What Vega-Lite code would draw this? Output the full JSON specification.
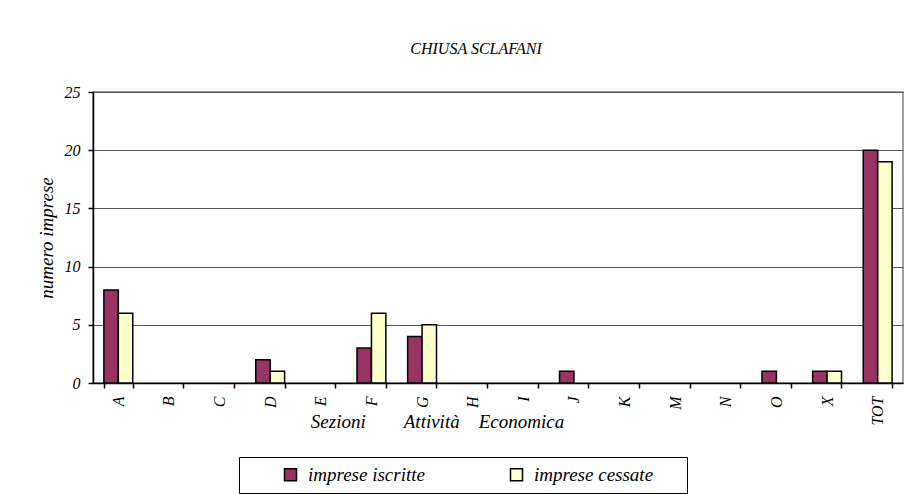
{
  "$schema": "https://vega.github.io/schema/vega-lite/v6.json",
  "width": 810,
  "height": 291,
  "autosize": {"type": "none"},
  "padding": {"left": 93, "top": 92, "right": 12, "bottom": 111},
  "background": "white",
  "title": {
    "text": "CHIUSA SCLAFANI",
    "font": "Liberation Serif",
    "fontSize": 16,
    "fontStyle": "italic",
    "fontWeight": "normal",
    "color": "#000",
    "anchor": "middle",
    "baseline": "alphabetic",
    "offset": 14,
    "dx": -22
  },
  "data": {
    "values": [
      {"sezione": "A", "serie": "imprese iscritte", "valore": 8},
      {"sezione": "A", "serie": "imprese cessate", "valore": 6},
      {"sezione": "B", "serie": "imprese iscritte", "valore": 0},
      {"sezione": "B", "serie": "imprese cessate", "valore": 0},
      {"sezione": "C", "serie": "imprese iscritte", "valore": 0},
      {"sezione": "C", "serie": "imprese cessate", "valore": 0},
      {"sezione": "D", "serie": "imprese iscritte", "valore": 2},
      {"sezione": "D", "serie": "imprese cessate", "valore": 1},
      {"sezione": "E", "serie": "imprese iscritte", "valore": 0},
      {"sezione": "E", "serie": "imprese cessate", "valore": 0},
      {"sezione": "F", "serie": "imprese iscritte", "valore": 3},
      {"sezione": "F", "serie": "imprese cessate", "valore": 6},
      {"sezione": "G", "serie": "imprese iscritte", "valore": 4},
      {"sezione": "G", "serie": "imprese cessate", "valore": 5},
      {"sezione": "H", "serie": "imprese iscritte", "valore": 0},
      {"sezione": "H", "serie": "imprese cessate", "valore": 0},
      {"sezione": "I", "serie": "imprese iscritte", "valore": 0},
      {"sezione": "I", "serie": "imprese cessate", "valore": 0},
      {"sezione": "J", "serie": "imprese iscritte", "valore": 1},
      {"sezione": "J", "serie": "imprese cessate", "valore": 0},
      {"sezione": "K", "serie": "imprese iscritte", "valore": 0},
      {"sezione": "K", "serie": "imprese cessate", "valore": 0},
      {"sezione": "M", "serie": "imprese iscritte", "valore": 0},
      {"sezione": "M", "serie": "imprese cessate", "valore": 0},
      {"sezione": "N", "serie": "imprese iscritte", "valore": 0},
      {"sezione": "N", "serie": "imprese cessate", "valore": 0},
      {"sezione": "O", "serie": "imprese iscritte", "valore": 1},
      {"sezione": "O", "serie": "imprese cessate", "valore": 0},
      {"sezione": "X", "serie": "imprese iscritte", "valore": 1},
      {"sezione": "X", "serie": "imprese cessate", "valore": 1},
      {"sezione": "TOT", "serie": "imprese iscritte", "valore": 20},
      {"sezione": "TOT", "serie": "imprese cessate", "valore": 19}
    ]
  },
  "mark": {"type": "bar", "stroke": "#000", "strokeWidth": 1.5},
  "encoding": {
    "x": {
      "field": "sezione",
      "type": "nominal",
      "sort": null,
      "scale": {"paddingInner": 0.43, "paddingOuter": 0.215},
      "axis": {
        "title": "Sezioni\u00a0\u00a0\u00a0\u00a0\u00a0\u00a0\u00a0\u00a0Attività\u00a0\u00a0\u00a0\u00a0Economica",
        "titleFont": "Liberation Serif",
        "titleFontSize": 19,
        "titleFontStyle": "italic",
        "titleFontWeight": "normal",
        "titleColor": "#000",
        "titleX": 344,
        "titleY": 44,
        "titleAlign": "center",
        "titleAnchor": null,
        "titleBaseline": "alphabetic",
        "labelAngle": 270,
        "labelFont": "Liberation Serif",
        "labelFontSize": 16,
        "labelFontStyle": "italic",
        "labelColor": "#000",
        "labelPadding": 8,
        "tickBand": "extent",
        "tickSize": 5,
        "tickColor": "#000",
        "domainColor": "#000",
        "grid": false
      }
    },
    "xOffset": {"field": "serie", "type": "nominal", "sort": ["imprese iscritte", "imprese cessate"]},
    "y": {
      "field": "valore",
      "type": "quantitative",
      "scale": {"domain": [0, 25], "nice": false},
      "axis": {
        "title": "numero imprese",
        "titleFont": "Liberation Serif",
        "titleFontSize": 19,
        "titleFontStyle": "italic",
        "titleFontWeight": "normal",
        "titleColor": "#000",
        "titlePadding": 8,
        "values": [0, 5, 10, 15, 20, 25],
        "labelFont": "Liberation Serif",
        "labelFontSize": 16,
        "labelFontStyle": "italic",
        "labelColor": "#000",
        "labelPadding": 8,
        "tickSize": 5,
        "tickColor": "#000",
        "domainColor": "#000",
        "gridColor": "#555",
        "gridWidth": 1
      }
    },
    "strokeOpacity": {
      "condition": {"test": "datum.valore == 0", "value": 0},
      "value": 1
    },
    "color": {
      "field": "serie",
      "type": "nominal",
      "sort": ["imprese iscritte", "imprese cessate"],
      "scale": {"domain": ["imprese iscritte", "imprese cessate"], "range": ["#993366", "#FFFFCC"]},
      "legend": {
        "title": "x",
        "titleOrient": "right",
        "titleColor": "transparent",
        "titleFontSize": 10,
        "titlePadding": 20,
        "orient": "none",
        "legendX": 146,
        "legendY": 365,
        "direction": "horizontal",
        "strokeColor": "#000",
        "padding": 8,
        "symbolType": "square",
        "symbolSize": 144,
        "symbolStrokeColor": "#000",
        "symbolStrokeWidth": 1.5,
        "symbolOffset": 34,
        "labelFont": "Liberation Serif",
        "labelFontSize": 19,
        "labelFontStyle": "italic",
        "labelColor": "#000",
        "labelOffset": 8,
        "columnPadding": 48
      }
    }
  },
  "config": {
    "view": {"stroke": "#808080", "strokeWidth": 1.5},
    "axis": {"domainWidth": 1.5, "tickWidth": 1.5}
  }
}
